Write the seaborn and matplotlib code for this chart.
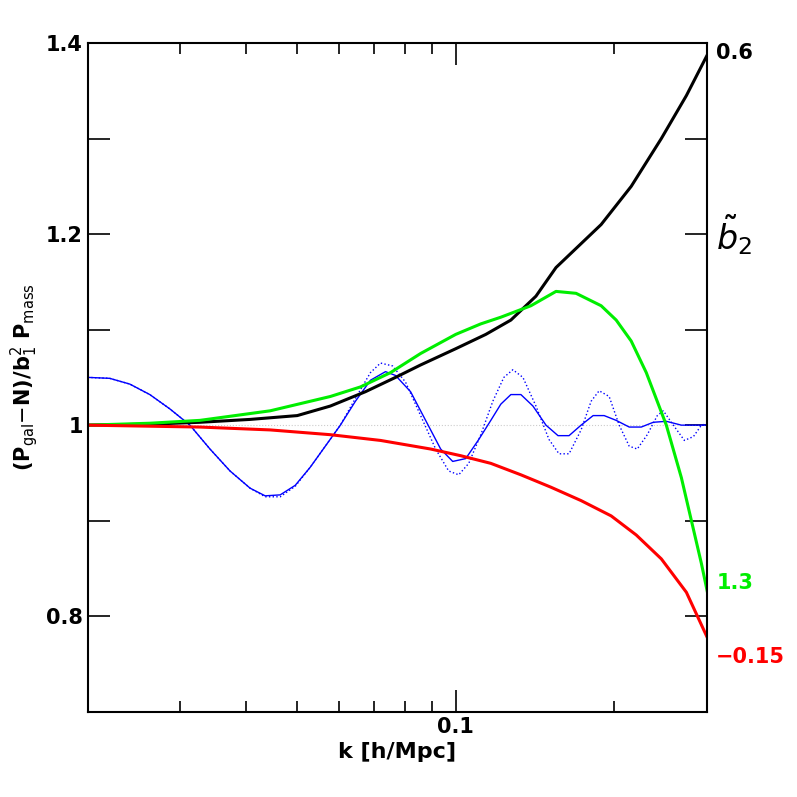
import numpy as np
import pandas as pd
import matplotlib
matplotlib.use("Agg")
import matplotlib.pyplot as plt
from matplotlib.ticker import FixedLocator, NullFormatter, FixedFormatter
import seaborn as sns

def px2k(px):
    return [0.1 * 10 ** ((p - 455) / 525.0) for p in px]

black_px = [88, 150, 200, 250, 297, 330, 365, 395, 420, 455, 485, 510, 535, 555, 580, 600, 630, 660, 685, 707]
black_y = [1.0, 1.001, 1.003, 1.006, 1.01, 1.02, 1.035, 1.05, 1.063, 1.08, 1.095, 1.11, 1.135, 1.165, 1.19, 1.21, 1.25, 1.3, 1.345, 1.39]
green_px = [88, 150, 200, 270, 330, 360, 390, 420, 455, 480, 500, 530, 555, 575, 600, 615, 630, 645, 665, 680, 690, 700, 707]
green_y = [1.0, 1.002, 1.005, 1.015, 1.03, 1.04, 1.055, 1.075, 1.095, 1.106, 1.113, 1.125, 1.14, 1.138, 1.125, 1.11, 1.088, 1.055, 1.0, 0.945, 0.9, 0.855, 0.82]
red_px = [88, 200, 270, 330, 380, 430, 460, 490, 520, 550, 580, 610, 635, 660, 685, 707]
red_y = [1.0, 0.998, 0.995, 0.99, 0.984, 0.975, 0.968, 0.96, 0.948, 0.935, 0.921, 0.905, 0.885, 0.86, 0.825, 0.775]
blue_px = [88, 110, 130, 150, 170, 190, 210, 230, 250, 265, 280, 295, 310, 325, 340, 355, 370, 385, 395, 410, 425, 440, 452, 465, 478, 490, 500, 510, 520, 532, 545, 557, 568, 580, 592, 603, 615, 628, 640, 652, 665, 680, 707]
blue_y = [1.05, 1.049, 1.043, 1.032, 1.017, 1.0, 0.975, 0.952, 0.934, 0.926, 0.927, 0.937, 0.956, 0.978, 1.0, 1.025, 1.047, 1.056, 1.052, 1.035, 1.005, 0.975, 0.962, 0.965, 0.985, 1.005, 1.022, 1.032, 1.032, 1.02, 1.0, 0.989, 0.989, 1.0, 1.01, 1.01, 1.005, 0.998, 0.998, 1.003, 1.004, 1.0, 1.0]
dot_px = [88, 110, 130, 150, 170, 190, 210, 230, 250, 265, 280, 295, 310, 325, 340, 355, 370, 380, 392, 405, 420, 435, 448, 458, 468, 480, 492, 503, 512, 522, 535, 548, 558, 568, 580, 590, 598, 608, 618, 628, 636, 646, 656, 662, 672, 683, 692, 700, 707]
dot_y = [1.05, 1.049, 1.043, 1.032, 1.017, 1.0, 0.975, 0.952, 0.934, 0.925, 0.925, 0.936, 0.956, 0.978, 1.0, 1.028, 1.055, 1.065, 1.062, 1.045, 1.01, 0.975, 0.952, 0.948, 0.96, 0.99, 1.025, 1.05, 1.058, 1.05, 1.02, 0.985, 0.97, 0.97, 0.995, 1.025, 1.036, 1.03, 1.0, 0.978, 0.975, 0.99, 1.01, 1.015, 1.0, 0.984, 0.988, 1.0, 1.002]

fig = plt.figure(figsize=(7.97, 7.97), dpi=100)
ax = fig.add_axes([0.110, 0.107, 0.777, 0.839])

def draw(px, y, color, lw, ls="-"):
    df = pd.DataFrame({"k": px2k(px), "v": y})
    sns.lineplot(data=df, x="k", y="v", color=color, lw=lw, ls=ls, ax=ax)

ax.axhline(1.0, color="#cccccc", lw=0.8, ls=":")
draw(blue_px, blue_y, "blue", 1.0)
draw(dot_px, dot_y, "blue", 1.0, ":")
draw(black_px, black_y, "black", 2.2)
draw(green_px, green_y, "#00ee00", 2.2)
draw(red_px, red_y, "red", 2.2)

ax.set_xscale("log")
ax.set_xlim(0.02, 0.3)
ax.set_ylim(0.7, 1.4)
ax.xaxis.set_major_locator(FixedLocator([0.1]))
ax.xaxis.set_major_formatter(FixedFormatter(["0.1"]))
ax.xaxis.set_minor_locator(FixedLocator([0.02,0.03,0.04,0.05,0.06,0.07,0.08,0.09,0.2,0.3]))
ax.xaxis.set_minor_formatter(NullFormatter())
ax.yaxis.set_major_locator(FixedLocator([0.8, 1.0, 1.2, 1.4]))
ax.yaxis.set_major_formatter(FixedFormatter(["0.8", "1", "1.2", "1.4"]))
ax.yaxis.set_minor_locator(FixedLocator([0.7, 0.9, 1.1, 1.3]))
ax.tick_params(which="both", direction="in", top=True, right=True, width=1.2, labelsize=15)
ax.tick_params(which="major", length=16)
ax.tick_params(which="minor", length=8)
ax.tick_params(axis="y", which="minor", length=16)
for lab in ax.get_xticklabels() + ax.get_yticklabels():
    lab.set_fontweight("bold")
for s in ax.spines.values():
    s.set_linewidth(1.5)
ax.set_xlabel("k [h/Mpc]", fontsize=16, fontweight="bold")
ax.set_ylabel(r"(P$_{\rm gal}$$-$N)/b$_1^2$ P$_{\rm mass}$", fontsize=15, fontweight="bold")

ax.text(1.015, 1.39, "0.6", transform=ax.get_yaxis_transform(), fontsize=15, fontweight="bold", va="center")
ax.text(1.015, 1.2, r"$\tilde{b}_2$", transform=ax.get_yaxis_transform(), fontsize=24, va="center")
ax.text(1.015, 0.835, "1.3", transform=ax.get_yaxis_transform(), fontsize=15, fontweight="bold", va="center", color="#00ee00")
ax.text(1.015, 0.757, "\u22120.15", transform=ax.get_yaxis_transform(), fontsize=15, fontweight="bold", va="center", color="red")

fig.savefig("out.png", dpi=100)
